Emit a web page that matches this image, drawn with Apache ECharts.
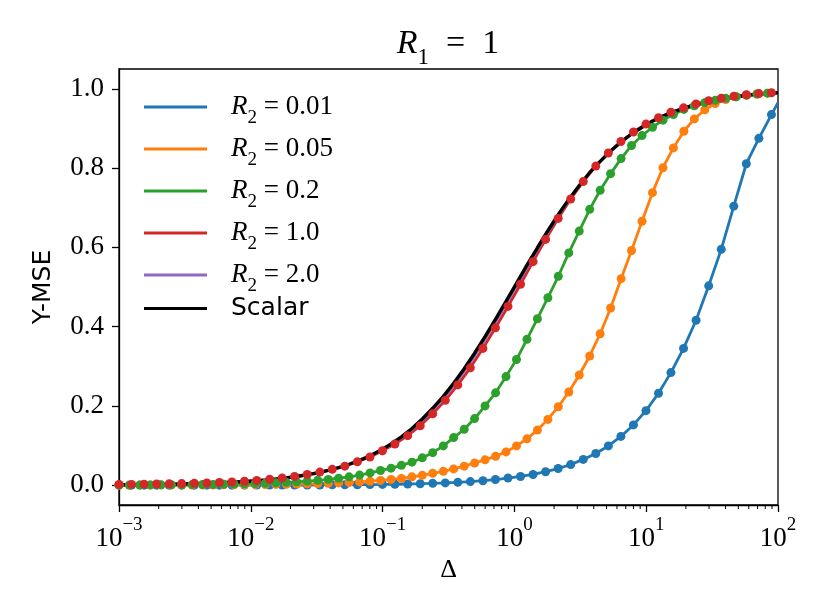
<!DOCTYPE html>
<html>
<head>
<meta charset="utf-8">
<script src="https://cdn.jsdelivr.net/npm/echarts@6.0.0/dist/echarts.min.js"></script>
<style>
  html, body { margin: 0; padding: 0; background: #fff; }
  #chart { width: 830px; height: 615px; }
</style>
</head>
<body>
<div id="chart"></div>
<script>
// x samples (Delta) for the blue / red runs
var deltaA = [0.001, 0.001245, 0.00155, 0.00193, 0.0024, 0.00299, 0.00373, 0.00464, 0.00578, 0.00719,
  0.00895, 0.0111, 0.0139, 0.0173, 0.0215, 0.0268, 0.0334, 0.0415, 0.0517, 0.0644,
  0.0802, 0.0998, 0.124, 0.155, 0.193, 0.240, 0.299, 0.372, 0.463, 0.577,
  0.718, 0.894, 1.113, 1.386, 1.725, 2.148, 2.674, 3.330, 4.146, 5.162,
  6.427, 8.002, 9.96, 12.4, 15.4, 19.2, 23.9, 29.8, 37.1, 46.2,
  57.5, 71.6, 89.2];
// x samples for the orange / green runs and the scalar curve
var deltaB = [0.001, 0.0012, 0.00144, 0.00173, 0.00208, 0.00249, 0.00299, 0.00359, 0.00431, 0.00518,
  0.00622, 0.00746, 0.00896, 0.0108, 0.0129, 0.0155, 0.0186, 0.0223, 0.0268, 0.0322,
  0.0387, 0.0464, 0.0557, 0.0669, 0.0803, 0.0964, 0.116, 0.139, 0.167, 0.200,
  0.240, 0.289, 0.346, 0.416, 0.499, 0.599, 0.720, 0.864, 1.037, 1.245,
  1.495, 1.795, 2.154, 2.586, 3.105, 3.728, 4.475, 5.373, 6.449, 7.743,
  9.296, 11.16, 13.40, 16.08, 19.31, 23.18, 27.83, 33.40, 40.11, 48.15,
  57.80, 69.39, 83.30, 100];
var deltaEnd = 100;

var r2_001 = [0, 0, 0, 0, 0, 0.0001, 0.0001, 0.0001, 0.0001, 0.0001,
  0.0002, 0.0002, 0.0003, 0.0003, 0.0004, 0.0005, 0.0006, 0.0008, 0.001, 0.0012,
  0.0015, 0.0019, 0.0024, 0.003, 0.0037, 0.0046, 0.0058, 0.0072, 0.009, 0.0113,
  0.0142, 0.018, 0.022, 0.027, 0.034, 0.042, 0.052, 0.065, 0.080, 0.099,
  0.123, 0.152, 0.188, 0.232, 0.284, 0.345, 0.416, 0.503, 0.595, 0.704,
  0.811, 0.875, 0.935];
var r2_001End = 0.965;

var r2_005 = [0.0001, 0.0001, 0.0002, 0.0002, 0.0003, 0.0003, 0.0004, 0.0005, 0.0005, 0.0006,
  0.0008, 0.0009, 0.0011, 0.0013, 0.0016, 0.0019, 0.0023, 0.0028, 0.0034, 0.004,
  0.0048, 0.0058, 0.007, 0.0083, 0.010, 0.012, 0.0145, 0.017, 0.021, 0.025,
  0.030, 0.035, 0.041, 0.048, 0.056, 0.064, 0.073, 0.084, 0.099, 0.117,
  0.139, 0.166, 0.198, 0.235, 0.278, 0.326, 0.382, 0.447, 0.521, 0.592,
  0.666, 0.738, 0.801, 0.851, 0.893, 0.924, 0.947, 0.963, 0.973, 0.980,
  0.984, 0.987, 0.989, 0.990];

var r2_02 = [0.0004, 0.0005, 0.0006, 0.0007, 0.0008, 0.001, 0.0012, 0.0014, 0.0017, 0.002,
  0.0024, 0.0029, 0.0034, 0.0041, 0.0049, 0.0059, 0.0071, 0.0085, 0.0102, 0.0122,
  0.0146, 0.0175, 0.021, 0.0255, 0.031, 0.037, 0.043, 0.050, 0.058, 0.069,
  0.082, 0.099, 0.120, 0.141, 0.168, 0.200, 0.233, 0.274, 0.317, 0.368,
  0.420, 0.473, 0.527, 0.586, 0.641, 0.696, 0.744, 0.786, 0.824, 0.857,
  0.882, 0.903, 0.921, 0.935, 0.948, 0.957, 0.965, 0.971, 0.976, 0.980,
  0.984, 0.987, 0.989, 0.990];

var r2_1 = [0.002, 0.002, 0.0025, 0.003, 0.0034, 0.004, 0.0047, 0.0056, 0.0067, 0.0081,
  0.0099, 0.012, 0.0147, 0.018, 0.022, 0.027, 0.033, 0.040, 0.048, 0.059,
  0.071, 0.087, 0.104, 0.125, 0.150, 0.180, 0.214, 0.253, 0.296, 0.345,
  0.397, 0.451, 0.507, 0.564, 0.620, 0.673, 0.722, 0.766, 0.805, 0.838,
  0.867, 0.891, 0.911, 0.927, 0.941, 0.952, 0.962, 0.970, 0.976, 0.981,
  0.985, 0.988, 0.990];
var r2_1End = 0.991;

var r2_2 = [0.001, 0.0012, 0.0015, 0.0019, 0.0024, 0.003, 0.0037, 0.0046, 0.0057, 0.0071,
  0.0089, 0.011, 0.0137, 0.017, 0.021, 0.0261, 0.0323, 0.0398, 0.049, 0.0596,
  0.0728, 0.089, 0.107, 0.130, 0.157, 0.188, 0.223, 0.263, 0.307, 0.357,
  0.409, 0.463, 0.518, 0.573, 0.627, 0.678, 0.725, 0.768, 0.806, 0.838,
  0.866, 0.890, 0.910, 0.926, 0.940, 0.951, 0.961, 0.969, 0.975, 0.980,
  0.984, 0.987, 0.989];
var r2_2End = 0.990;

var scalar = [0.001, 0.0012, 0.0014, 0.0017, 0.0021, 0.0025, 0.003, 0.0036, 0.0043, 0.0052,
  0.0062, 0.0074, 0.0089, 0.0107, 0.0127, 0.0153, 0.0183, 0.0218, 0.0261, 0.0312,
  0.0373, 0.0443, 0.0528, 0.0627, 0.0743, 0.0879, 0.104, 0.122, 0.143, 0.167,
  0.194, 0.224, 0.257, 0.294, 0.333, 0.375, 0.419, 0.464, 0.509, 0.555,
  0.599, 0.642, 0.683, 0.721, 0.756, 0.789, 0.817, 0.843, 0.866, 0.886,
  0.903, 0.918, 0.931, 0.941, 0.951, 0.959, 0.965, 0.971, 0.976, 0.980,
  0.983, 0.986, 0.988, 0.990];

var seriesNames = ['R2 = 0.01', 'R2 = 0.05', 'R2 = 0.2', 'R2 = 1.0', 'R2 = 2.0', 'Scalar'];
var seriesLabels = ['0.01', '0.05', '0.2', '1.0', '2.0'];
var colors = ['#1f77b4', '#ff7f0e', '#2ca02c', '#d62728', '#9467bd', '#000000'];
var yTicks = [0, 0.2, 0.4, 0.6, 0.8, 1.0];

var serif = 'Liberation Serif';
var sans = 'DejaVu Sans';

function pairs(xs, ys, n) {
  var out = [];
  for (var i = 0; i < (n || ys.length); i++) out.push([xs[i], ys[i]]);
  return out;
}

// minor ticks of the log axis (2..9 x 10^n)
var minorTicks = [];
for (var e = -3; e < 2; e++) {
  for (var j = 2; j <= 9; j++) minorTicks.push([j * Math.pow(10, e), -0.05]);
}

function lineSeries(i, data, width) {
  return {
    name: seriesNames[i], type: 'line', data: data, showSymbol: false,
    lineStyle: { color: colors[i], width: width || 2.8 },
    itemStyle: { color: colors[i] }, clip: true, z: 2
  };
}
function dotSeries(i, data) {
  return {
    name: seriesNames[i] + ' pts', type: 'scatter', data: data, symbolSize: 9,
    itemStyle: { color: colors[i], opacity: 1 }, clip: true, z: 2
  };
}

var myChart = echarts.init(document.getElementById('chart'));
var option = {
  animation: false,
  backgroundColor: '#fff',
  title: {
    text: '{it|R}{sub|1}{rm|  =  1}',
    left: 448, top: 19, textAlign: 'center', padding: 0,
    textStyle: {
      fontWeight: 'normal',
      rich: {
        it: { fontFamily: serif, fontStyle: 'italic', fontWeight: 'normal', fontSize: 34, lineHeight: 50, color: '#000' },
        rm: { fontFamily: serif, fontWeight: 'normal', fontSize: 34, lineHeight: 50, color: '#000' },
        sub: { fontFamily: serif, fontWeight: 'normal', fontSize: 23, lineHeight: 23, padding: [27, 0, 0, 0], color: '#000' }
      }
    }
  },
  legend: {
    data: seriesNames,
    orient: 'vertical', left: 144, top: 86, padding: 0,
    itemWidth: 63, itemHeight: 3, itemGap: 0, icon: 'rect',
    selectedMode: false,
    formatter: function (name) {
      var i = seriesNames.indexOf(name);
      if (i === 5) return '{sans|Scalar}';
      return '{it|R}{sub|2}{rm| = ' + seriesLabels[i] + '}';
    },
    textStyle: {
      padding: [0, 0, 0, 19],
      rich: {
        it: { fontFamily: serif, fontStyle: 'italic', fontSize: 27, lineHeight: 42, color: '#000' },
        rm: { fontFamily: serif, fontSize: 27, lineHeight: 42, color: '#000' },
        sub: { fontFamily: serif, fontSize: 19, lineHeight: 19, padding: [23, 0, 0, 0], color: '#000' },
        sans: { fontFamily: sans, fontSize: 25, lineHeight: 42, color: '#000' }
      }
    }
  },
  grid: {
    left: 119, right: 52, top: 69, bottom: 110,
    show: true, borderColor: '#000', borderWidth: 1.3, backgroundColor: 'transparent'
  },
  xAxis: {
    type: 'log', logBase: 10, min: 0.001, max: 100,
    name: 'Δ', nameLocation: 'middle', nameGap: 50,
    nameTextStyle: { fontFamily: serif, fontSize: 26, color: '#000' },
    axisLine: { onZero: false, lineStyle: { color: '#000', width: 1.3 } },
    axisTick: { show: true, length: 7, lineStyle: { color: '#000', width: 1.3 } },
    splitLine: { show: false },
    axisLabel: {
      margin: 11,
      formatter: function (v) {
        var p = Math.round(Math.log10(v));
        return '{b|10}{s|' + (p < 0 ? '\u2212' + (-p) : p) + '}';
      },
      rich: {
        b: { fontFamily: serif, fontSize: 27, lineHeight: 36, verticalAlign: 'bottom', color: '#000' },
        s: { fontFamily: serif, fontSize: 19, lineHeight: 23, verticalAlign: 'top', color: '#000' }
      }
    }
  },
  yAxis: {
    type: 'value', min: -0.05, max: 1.05,
    name: 'Y-MSE', nameLocation: 'middle', nameGap: 63,
    nameTextStyle: { fontFamily: sans, fontSize: 25, color: '#000' },
    axisLine: { show: true, onZero: false, lineStyle: { color: '#000', width: 1.3 } },
    axisTick: { show: true, length: 7, customValues: yTicks, lineStyle: { color: '#000', width: 1.3 } },
    splitLine: { show: false },
    axisLabel: {
      margin: 15, customValues: yTicks,
      fontFamily: serif, fontSize: 27, color: '#000',
      formatter: function (v) { return v.toFixed(1); }
    }
  },
  series: [
    lineSeries(0, pairs(deltaA, r2_001).concat([[deltaEnd, r2_001End]])),
    dotSeries(0, pairs(deltaA, r2_001)),
    lineSeries(1, pairs(deltaB, r2_005)),
    dotSeries(1, pairs(deltaB, r2_005, deltaB.length - 1)),
    lineSeries(2, pairs(deltaB, r2_02)),
    dotSeries(2, pairs(deltaB, r2_02, deltaB.length - 1)),
    lineSeries(3, pairs(deltaA, r2_1).concat([[deltaEnd, r2_1End]])),
    dotSeries(3, pairs(deltaA, r2_1)),
    lineSeries(4, pairs(deltaA, r2_2).concat([[deltaEnd, r2_2End]]), 2),
    lineSeries(5, pairs(deltaB, scalar), 3.4),
    {
      // minor ticks on the log x axis
      type: 'custom', data: minorTicks, clip: false, silent: true, z: 5,
      renderItem: function (params, api) {
        var p = api.coord([api.value(0), api.value(1)]);
        return {
          type: 'line',
          shape: { x1: p[0], y1: p[1], x2: p[0], y2: p[1] + 4 },
          style: { stroke: '#000', lineWidth: 1 }
        };
      }
    }
  ]
};
myChart.setOption(option);
</script>
</body>
</html>
